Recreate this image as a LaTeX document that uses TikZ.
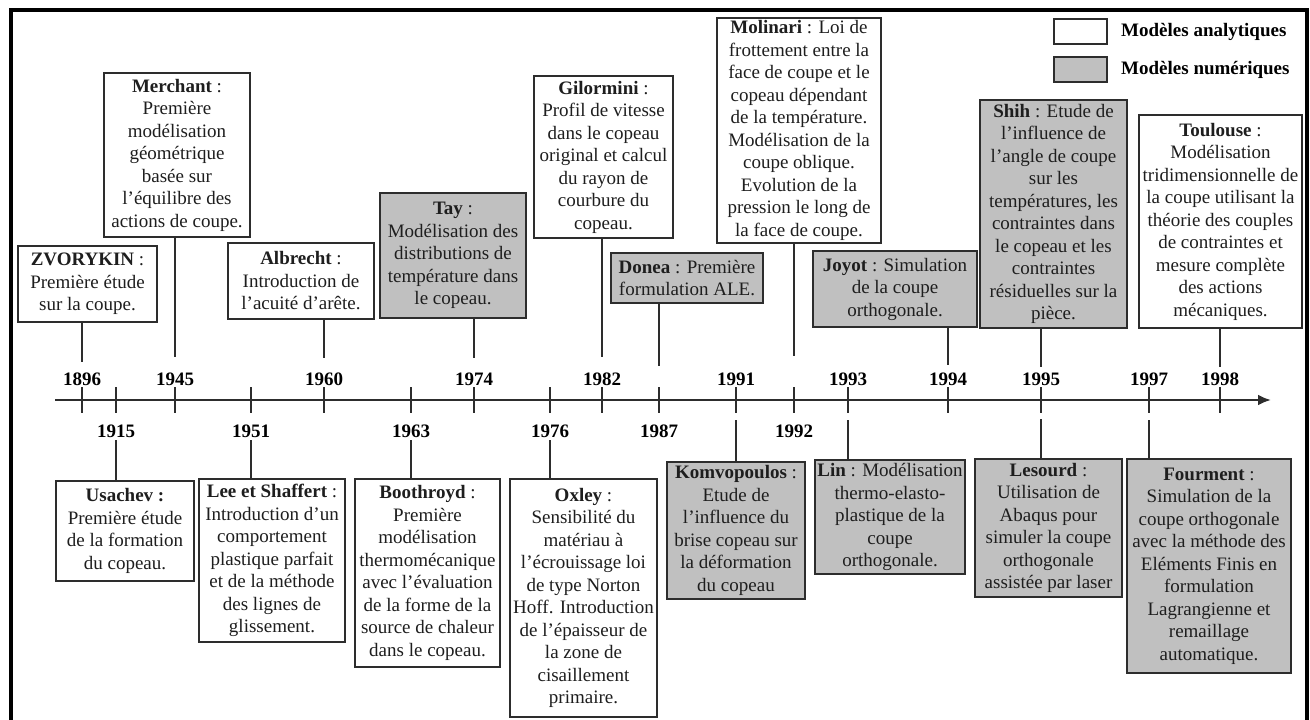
\documentclass[tikz,border=0pt]{standalone}
\usepackage{fontspec}
\setmainfont{Liberation Serif}
\usetikzlibrary{arrows.meta}
\definecolor{linec}{RGB}{45,45,45}
\definecolor{numc}{RGB}{192,192,192}
\definecolor{txtc}{RGB}{30,30,30}
\tikzset{
  txt/.style={font=\fontsize{19}{22.5}\selectfont, align=center, inner sep=1pt,
              draw=linec, line width=2pt, text=txtc},
  abox/.style={txt, fill=white},
  nbox/.style={txt, fill=numc},
  yr/.style={font=\fontsize{19}{22}\selectfont\bfseries, inner sep=0pt, text=black},
  conn/.style={draw=linec, line width=1.8pt},
  tickline/.style={draw=linec, line width=1.8pt},
  axisline/.style={draw=linec, line width=2.4pt, -{Latex[length=13pt,width=11pt]}},
  frameline/.style={draw=black, line width=4pt},
  leg/.style={font=\fontsize{19}{22}\selectfont\bfseries, inner sep=0pt, anchor=west, text=black}
}
\begin{document}
\begin{tikzpicture}[x=1pt,y=-1pt]
\useasboundingbox (0,0) rectangle (1310,720);
% frame
\draw[frameline] (10.5,730) -- (10.5,9.5) -- (1307,9.5) -- (1307,730);

% legend
\node[abox, minimum width=53, minimum height=25] (lga) at (1080.5,31.5) {};
\node[nbox, minimum width=53, minimum height=25] (lgn) at (1080.5,69.5) {};
\node[leg] (lgat) at (1121,32) {Modèles analytiques};
\node[leg] (lgnt) at (1121,70) {Modèles numériques};

% axis
\coordinate (axs) at (55,400);
\coordinate (axe) at (1271,400);
\draw[axisline] (axs) -- (axe);
\foreach \n/\x in {1896/82,1915/116,1945/175,1951/251,1960/324,1963/411,1974/474,1976/550,1982/602,1987/659,1991/736,1992/794,1993/848,1994/948,1995/1041,1997/1149,1998/1220}{
  \coordinate (t\n) at (\x,400);
  \draw[tickline] (\x,387) -- (\x,413);
}
% year labels
\foreach \n/\x in {1896/82,1945/175,1960/324,1974/474,1982/602,1991/736,1993/848,1994/948,1995/1041,1997/1149,1998/1220}{
  \node[yr] (y\n) at (\x,379) {\n};
}
\foreach \n/\x in {1915/116,1951/251,1963/411,1976/550,1987/659,1992/794}{
  \node[yr] (y\n) at (\x,431) {\n};
}

% upper boxes
\node[abox, minimum width=139, minimum height=76] (zv) at (87.5,284)
  {\textbf{ZVORYKIN} :\\Première étude\\sur la coupe.};
\node[abox, minimum width=146, minimum height=164] (me) at (177,155)
  {\textbf{Merchant} :\\Première\\modélisation\\géométrique\\basée sur\\l’équilibre des\\actions de coupe.};
\node[abox, minimum width=146, minimum height=76] (al) at (301,281)
  {\textbf{Albrecht} :\\Introduction de\\l’acuité d’arête.};
\node[nbox, minimum width=146, minimum height=125] (ta) at (453,255.5)
  {\textbf{Tay} :\\Modélisation des\\distributions de\\température dans\\le copeau.};
\node[abox, minimum width=139, minimum height=162] (gi) at (603.5,157)
  {\textbf{Gilormini} :\\Profil de vitesse\\dans le copeau\\original et calcul\\du rayon de\\courbure du\\copeau.};
\node[nbox, minimum width=152, minimum height=50] (do) at (687,278)
  {\textbf{Donea} : Première\\formulation ALE.};
\node[abox, minimum width=164, minimum height=225] (mo) at (799,130.5)
  {\textbf{Molinari} : Loi de\\frottement entre la\\face de coupe et le\\copeau dépendant\\de la température.\\Modélisation de la\\coupe oblique.\\Evolution de la\\pression le long de\\la face de coupe.};
\node[nbox, minimum width=164, minimum height=76] (jo) at (895,289)
  {\textbf{Joyot} : Simulation\\de la coupe\\orthogonale.};
\node[nbox, minimum width=147, minimum height=228] (sh) at (1053.5,214)
  {\textbf{Shih} : Etude de\\l’influence de\\l’angle de coupe\\sur les\\températures, les\\contraintes dans\\le copeau et les\\contraintes\\résiduelles sur la\\pièce.};
\node[abox, minimum width=163, minimum height=213] (to) at (1220.5,221.5)
  {\textbf{Toulouse} :\\Modélisation\\tridimensionnelle de\\la coupe utilisant la\\théorie des couples\\de contraintes et\\mesure complète\\des actions\\mécaniques.};

% lower boxes
\node[abox, minimum width=138, minimum height=100] (us) at (125,531)
  {\textbf{Usachev :}\\Première étude\\de la formation\\du copeau.};
\node[abox, minimum width=146, minimum height=163] (le) at (272,560.5)
  {\textbf{Lee et Shaffert} :\\Introduction d’un\\comportement\\plastique parfait\\et de la méthode\\des lignes de\\glissement.};
\node[abox, minimum width=145, minimum height=188] (bo) at (427.5,573)
  {\textbf{Boothroyd} :\\Première\\modélisation\\thermomécanique\\avec l’évaluation\\de la forme de la\\source de chaleur\\dans le copeau.};
\node[abox, minimum width=147, minimum height=238] (ox) at (583.5,598)
  {\textbf{Oxley} :\\Sensibilité du\\matériau à\\l’écrouissage loi\\de type Norton\\Hoff. Introduction\\de l’épaisseur de\\la zone de\\cisaillement\\primaire.};
\node[nbox, minimum width=138, minimum height=137] (ko) at (736,530.5)
  {\textbf{Komvopoulos} :\\Etude de\\l’influence du\\brise copeau sur\\la déformation\\du copeau};
\node[nbox, minimum width=150, minimum height=114] (li) at (890,517)
  {\textbf{Lin} : Modélisation\\thermo-elasto-\\plastique de la\\coupe\\orthogonale.};
\node[nbox, minimum width=147, minimum height=138] (ls) at (1048.5,528)
  {\textbf{Lesourd} :\\Utilisation de\\Abaqus pour\\simuler la coupe\\orthogonale\\assistée par laser};
\node[nbox, minimum width=164, minimum height=214] (fo) at (1209,566)
  {\textbf{Fourment} :\\Simulation de la\\coupe orthogonale\\avec la méthode des\\Eléments Finis en\\formulation\\Lagrangienne et\\remaillage\\automatique.};

% connector end points
\coordinate (u1896) at (82,362);
\coordinate (u1945) at (175,357);
\coordinate (u1960) at (324,358);
\coordinate (u1974) at (474,358);
\coordinate (u1982) at (602,357);
\coordinate (u1987) at (659,366);
\coordinate (u1992) at (794,356);
\coordinate (u1994) at (948,365);
\coordinate (u1995) at (1041,367);
\coordinate (u1998) at (1220,367);
\coordinate (d1915) at (116,440);
\coordinate (d1951) at (251,440);
\coordinate (d1963) at (411,440);
\coordinate (d1976) at (550,440);
\coordinate (d1991) at (736,420);
\coordinate (d1993) at (848,420);
\coordinate (d1995) at (1041,419);
\coordinate (d1997) at (1149,420);

% connectors
\draw[conn] (zv.south -| u1896) -- (u1896);
\draw[conn] (me.south -| u1945) -- (u1945);
\draw[conn] (al.south -| u1960) -- (u1960);
\draw[conn] (ta.south -| u1974) -- (u1974);
\draw[conn] (gi.south -| u1982) -- (u1982);
\draw[conn] (do.south -| u1987) -- (u1987);
\draw[conn] (mo.south -| u1992) -- (u1992);
\draw[conn] (jo.south -| u1994) -- (u1994);
\draw[conn] (sh.south -| u1995) -- (u1995);
\draw[conn] (to.south -| u1998) -- (u1998);
\draw[conn] (d1915) -- (us.north -| d1915);
\draw[conn] (d1951) -- (le.north -| d1951);
\draw[conn] (d1963) -- (bo.north -| d1963);
\draw[conn] (d1976) -- (ox.north -| d1976);
\draw[conn] (d1991) -- (ko.north -| d1991);
\draw[conn] (d1993) -- (li.north -| d1993);
\draw[conn] (d1995) -- (ls.north -| d1995);
\draw[conn] (d1997) -- (fo.north -| d1997);
\end{tikzpicture}
\end{document}
